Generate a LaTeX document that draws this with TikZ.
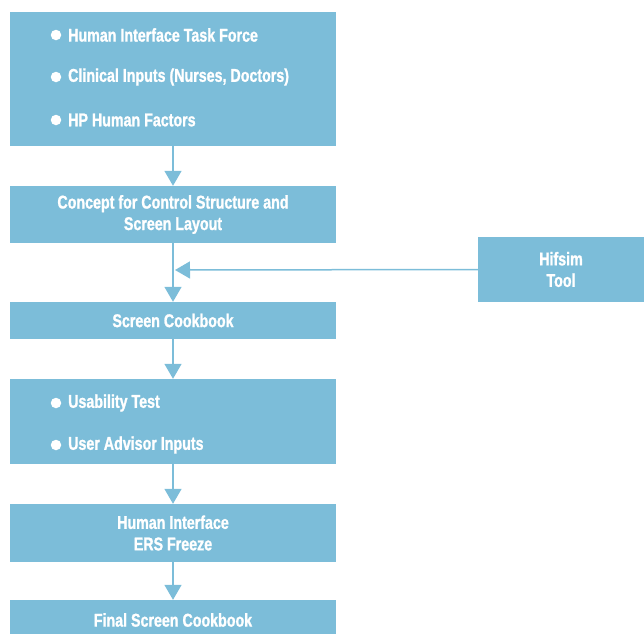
\documentclass[tikz,border=0pt]{standalone}
\usepackage{fontspec}
\setmainfont{Liberation Sans}[FakeStretch=0.77, BoldFeatures={FakeBold=1.2}]
\usetikzlibrary{arrows.meta}
\definecolor{boxblue}{RGB}{124,189,217}
\tikzset{
  flowbox/.style={fill=boxblue, draw=none, minimum width=326pt, inner sep=0pt,
    text=white, font=\bfseries\fontsize{18.5}{21.5}\selectfont, align=center},
  item/.style={text=white, font=\bfseries\fontsize{18.5}{21.5}\selectfont, anchor=west, inner sep=0pt},
  dot/.style={circle, fill=white, minimum size=10.5pt, inner sep=0pt},
  flow/.style={draw=boxblue, line width=1.5pt, -{Triangle[width=17pt,length=15pt]}}
}
\begin{document}
\begin{tikzpicture}[x=1pt,y=-1pt]
  \useasboundingbox (0,0) rectangle (644,633);
  % main column of process boxes
  \node[flowbox, minimum height=134pt] (inputs) at (173,79) {};
  \node[flowbox, minimum height=57pt] (concept) at (173,214.5)
    {Concept for Control Structure and\\Screen Layout};
  \node[flowbox, minimum height=37pt] (cookbook) at (173,320.5) {Screen Cookbook};
  \node[flowbox, minimum height=85pt] (tests) at (173,421.5) {};
  \node[flowbox, minimum height=58pt] (freeze) at (173,533)
    {Human Interface\\ERS Freeze};
  \node[flowbox, minimum height=40pt] (final) at (173,620) {};
  \node[item, anchor=center] (finaltext) at (173,620) {Final Screen Cookbook};
  \node[flowbox, minimum width=166pt, minimum height=65pt] (hifsim) at (561,269.5)
    {Hifsim\\Tool};
  % bullet lists inside the first and fourth boxes
  \node[dot] (d1) at (56,35) {};
  \node[item] (t1) at (68,35) {Human Interface Task Force};
  \node[dot] (d2) at (56,77) {};
  \node[item] (t2) at (68,77) {Clinical Inputs (Nurses, Doctors)};
  \node[dot] (d3) at (56,120) {};
  \node[item] (t3) at (68,120) {HP Human Factors};
  \node[dot] (d4) at (56,403) {};
  \node[item] (t4) at (68,403) {Usability Test};
  \node[dot] (d5) at (56,445) {};
  \node[item] (t5) at (68,445) {User Advisor Inputs};
  % connectors
  \coordinate (join) at (173,270);
  \draw[flow] (inputs.south) -- (concept.north);
  \draw[flow] (concept.south) -- (cookbook.north);
  \draw[flow, shorten >=2pt] (hifsim.west) -- (join);
  \draw[flow] (cookbook.south) -- (tests.north);
  \draw[flow] (tests.south) -- (freeze.north);
  \draw[flow] (freeze.south) -- (final.north);
\end{tikzpicture}
\end{document}
